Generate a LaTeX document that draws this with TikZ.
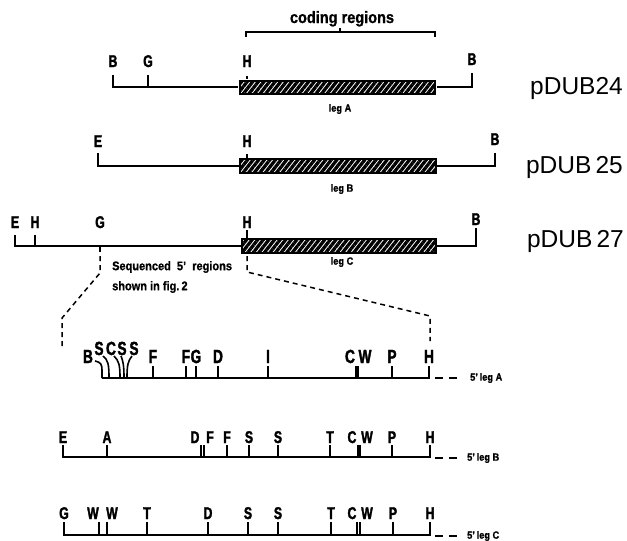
\documentclass[tikz,border=0pt]{standalone}
\usepackage{fontspec}
\setmainfont{Liberation Sans}
\newfontfamily\sitefont[FakeStretch=0.72,FakeBold=1.8]{Liberation Sans}
\newfontfamily\notefont[FakeStretch=0.88,FakeBold=1.0]{Liberation Sans}
\usetikzlibrary{patterns.meta}

\begin{document}
\begin{tikzpicture}[x=1pt,y=-1pt,
  dna/.style={line width=1.8pt, line join=miter},
  cut/.style={line width=1.6pt},
  fatcut/.style={line width=3.4pt},
  zoomline/.style={line width=1.5pt, dash pattern=on 5pt off 4pt},
  enddash/.style={line width=1.6pt, dash pattern=on 8pt off 6pt},
  gene/.style={draw, line width=2pt, fill=white, inner sep=0pt,
    pattern={Lines[angle=52, distance=4.4pt, line width=3.3pt]}},
  siteA/.style={font=\sitefont\bfseries\fontsize{19}{19}\selectfont, inner sep=0pt, anchor=base},
  site/.style={font=\sitefont\bfseries\fontsize{17}{17}\selectfont, inner sep=0pt, anchor=base},
  note/.style={font=\notefont\bfseries\fontsize{12.5}{14}\selectfont, inner sep=0pt},
  codingnote/.style={font=\notefont\bfseries\fontsize{16.5}{18}\selectfont, inner sep=0pt},
  legnote/.style={font=\notefont\bfseries\fontsize{10.5}{12}\selectfont, inner sep=0pt},
  endnote/.style={font=\notefont\bfseries\fontsize{10.5}{12}\selectfont, inner sep=0pt, anchor=west},
  plasmid/.style={font=\fontsize{24.5}{25}\selectfont, inner sep=0pt, anchor=base east}
]
\useasboundingbox (0,0) rectangle (627,541);

% ---------- coding regions bracket ----------
\draw[cut] (246,37) -- (246,32) -- (435,32) -- (435,37);
\draw[cut] (340,32) -- (340,28);
\node[codingnote, anchor=base] (coding) at (342,23) {coding regions};

% ---------- pDUB24 ----------
\node[gene, minimum width=195pt, minimum height=13pt] (barA) at (337.5,87) {};
\coordinate (a24L) at (113,75);
\coordinate (a24R) at (472,73);
\draw[dna] (a24L) |- (barA.west);
\draw[dna] (barA.east) -| (a24R);
\draw[cut] (148,75) -- (148,87);
\draw[cut] (247,76) -- (barA.north -| 247,0);
\node[site] (a24B1) at (113,67) {B};
\node[site] (a24G) at (148,67) {G};
\node[site] (a24H) at (247,67) {H};
\node[site] (a24B2) at (472,65) {B};
\node[legnote] (legA) at (340,109) {leg A};
\node[plasmid] (p24) at (623,94) {pDUB24};

% ---------- pDUB25 ----------
\node[gene, minimum width=196pt, minimum height=14pt] (barB) at (338,166) {};
\coordinate (b25L) at (98,153);
\coordinate (b25R) at (495,153);
\draw[dna] (b25L) |- (barB.west);
\draw[dna] (barB.east) -| (b25R);
\draw[cut] (247,154) -- (barB.north -| 247,0);
\node[site] (b25E) at (98,147) {E};
\node[site] (b25H) at (247,147) {H};
\node[site] (b25B) at (495,145) {B};
\node[legnote] (legB) at (342,189) {leg B};
\node[plasmid] (p25) at (623,173) {pDUB\,25};

% ---------- pDUB27 ----------
\node[gene, minimum width=194pt, minimum height=14pt] (barC) at (339,246) {};
\coordinate (c27L) at (15,235);
\coordinate (c27R) at (476,228);
\draw[dna] (c27L) |- (barC.west);
\draw[dna] (barC.east) -| (c27R);
\draw[cut] (35,235) -- (35,246);
\draw[cut] (100,246) -- (100,252);
\draw[cut] (247,230) -- (barC.north -| 247,0);
\node[site] (c27E) at (15,228) {E};
\node[site] (c27H1) at (35,228) {H};
\node[site] (c27G) at (100,228) {G};
\node[site] (c27H2) at (247,228) {H};
\node[site] (c27B) at (476,225) {B};
\node[legnote] (legC) at (342,262) {leg C};
\node[plasmid] (p27) at (624,247) {pDUB\,27};
\node[note, anchor=west] (seq1) at (112,267) {Sequenced\ \ 5\textquoteright\ \ regions};
\node[note, anchor=west] (seq2) at (112,287) {shown in fig.\,2};

% ---------- expansion guides ----------
\coordinate (gL1) at (100,256);
\coordinate (gL2) at (100,273);
\coordinate (gL3) at (62,318);
\coordinate (gL4) at (62,346);
\coordinate (gR1) at (247,256);
\coordinate (gR2) at (247,272);
\coordinate (gR3) at (430,316);
\coordinate (gR4) at (430,341);
\draw[zoomline] (gL1) -- (gL2) -- (gL3) -- (gL4);
\draw[zoomline] (gR1) -- (gR2) -- (gR3) -- (gR4);

% ---------- 5' leg A ----------
\coordinate (mA0) at (102,378);
\coordinate (mA1) at (429,378);
\draw[dna] (mA0) -- (mA1) -- (429,366);
\foreach \x in {153,186,196,218,268,392}
  \draw[cut] (\x,378) -- (\x,366);
\draw[fatcut] (357,378) -- (357,366);
\draw[cut] (95,361) .. controls (101,362) and (102,365) .. (102,370) -- (mA0);
\draw[cut] (103,356) .. controls (108,360) and (109,364) .. (109,378);
\draw[cut] (114,356) .. controls (119,361) and (120,365) .. (120,378);
\draw[cut] (121,356) .. controls (123,361) and (124,365) .. (124,378);
\draw[cut] (132,356) .. controls (128,361) and (127,365) .. (127,378);
\node[siteA] (sAB) at (88,363) {B};
\node[siteA] (sAS1) at (99,355) {S};
\node[siteA] (sAC) at (111,355) {C};
\node[siteA] (sAS2) at (122,355) {S};
\node[siteA] (sAS3) at (134,355) {S};
\foreach \x/\t [count=\i] in {153/F,186/F,196/G,218/D,268/I,350/C,365/W,392/P,429/H}
  \node[siteA] (sA\i) at (\x,363) {\t};
\coordinate (eA1) at (435,378);
\coordinate (eA2) at (458,378);
\draw[enddash] (eA1) -- (eA2);
\node[endnote] (legA5) at (470,378) {5\textquoteright\,leg A};

% ---------- 5' leg B ----------
\coordinate (mB0) at (63,445);
\coordinate (mB1) at (430,457);
\draw[dna] (mB0) |- (mB1) -- (430,445);
\foreach \x in {107,201,204,227,249,278,330,392}
  \draw[cut] (\x,457) -- (\x,445);
\draw[fatcut] (359,457) -- (359,445);
\foreach \x/\t [count=\i] in {63/E,107/A,195/D,210/F,227/F,249/S,278/S,330/T,352/C,367/W,392/P,430/H}
  \node[site] (sB\i) at (\x,443) {\t};
\coordinate (eB1) at (435,458);
\coordinate (eB2) at (458,458);
\draw[enddash] (eB1) -- (eB2);
\node[endnote] (legB5) at (467,458) {5\textquoteright\,leg B};

% ---------- 5' leg C ----------
\coordinate (mC0) at (64,522);
\coordinate (mC1) at (430,535);
\draw[dna] (mC0) |- (mC1) -- (430,522);
\foreach \x in {99,107,147,208,248,278,331,357,360,393}
  \draw[cut] (\x,535) -- (\x,522);
\foreach \x/\t [count=\i] in {64/G,93/W,112/W,147/T,208/D,248/S,278/S,331/T,352/C,367/W,393/P,430/H}
  \node[site] (sC\i) at (\x,519) {\t};
\coordinate (eC1) at (435,536);
\coordinate (eC2) at (458,536);
\draw[enddash] (eC1) -- (eC2);
\node[endnote] (legC5) at (467,536) {5\textquoteright\,leg C};
\end{tikzpicture}
\end{document}
